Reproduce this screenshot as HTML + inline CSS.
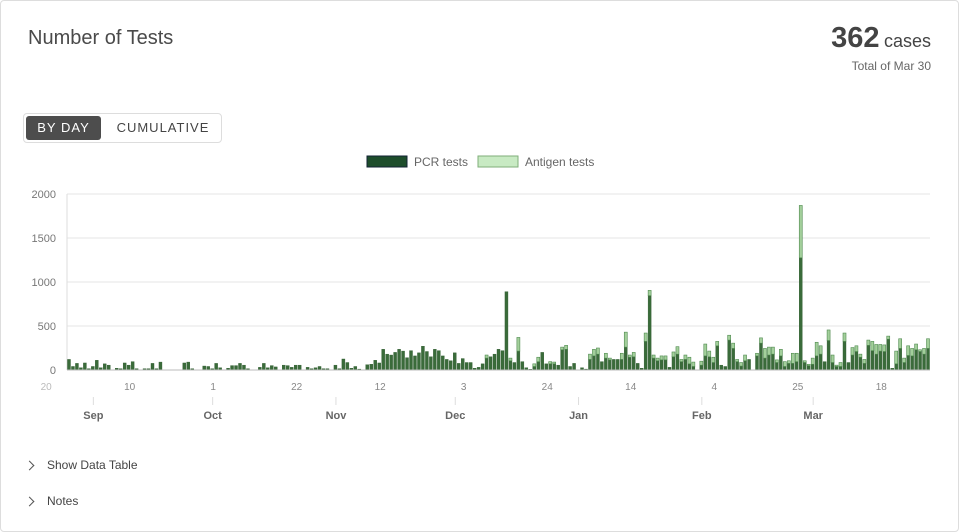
<!DOCTYPE html>
<html><head><meta charset="utf-8">
<style>
body{margin:0;background:#fff;font-family:"Liberation Sans",sans-serif;}
#card{position:absolute;left:0;top:0;width:957px;height:530px;border:1px solid #ddd;border-radius:4px;}
.t{position:absolute;white-space:nowrap;}
</style></head><body>
<div id="card"></div>
<div class="t" style="left:28px;top:27px;font-size:20px;color:#4a4a4a;">Number of Tests</div>
<div class="t" style="right:28px;top:22px;color:#444;"><b style="font-size:29px;">362</b> <span style="font-size:18px;">cases</span></div>
<div class="t" style="right:28px;top:59px;font-size:12px;color:#666;">Total of Mar 30</div>
<div style="position:absolute;left:23px;top:113px;width:197px;height:28px;border:1px solid #ddd;border-radius:4px;"></div>
<div class="t" style="left:26px;top:116px;width:75px;height:24px;background:#4d4d4d;color:#fff;border-radius:3px;font-size:13px;letter-spacing:1px;line-height:24px;text-align:center;">BY DAY</div>
<div class="t" style="left:110px;top:116px;width:106px;height:24px;color:#444;font-size:13px;letter-spacing:1px;line-height:24px;text-align:center;">CUMULATIVE</div>
<svg id="chart" width="959" height="440" style="position:absolute;left:0;top:0"></svg>
<div class="t" style="left:26px;top:458px;font-size:12px;color:#444;"><span style="display:inline-block;width:6px;height:6px;border-right:1.5px solid #555;border-top:1.5px solid #555;transform:rotate(45deg);margin-right:14px;"></span>Show Data Table</div>
<div class="t" style="left:26px;top:494px;font-size:12px;color:#444;"><span style="display:inline-block;width:6px;height:6px;border-right:1.5px solid #555;border-top:1.5px solid #555;transform:rotate(45deg);margin-right:14px;"></span>Notes</div>
<script>
const startDate = [2020,7,26];
const yTicks = [0,500,1000,1500,2000];
const dayTickLabels = ["20","10","1","22","12","3","24","14","4","25","18"];
const monthLabels = ["Sep","Oct","Nov","Dec","Jan","Feb","Mar"];
const pcrTests = [120,40,75,25,80,15,40,110,25,70,55,0,20,15,80,55,95,15,0,15,15,75,15,90,0,0,0,0,0,80,90,15,0,0,45,40,15,75,25,0,20,50,50,75,55,15,0,0,30,75,25,50,35,0,55,50,30,55,55,0,30,15,25,40,15,15,0,55,15,125,85,20,40,10,0,60,65,110,80,235,180,170,200,235,215,140,220,160,195,270,210,150,235,220,160,120,105,195,75,130,85,
85,20,30,70,135,150,180,235,220,890,105,85,215,95,25,8,40,95,200,70,70,70,55,230,235,40,75,0,25,10,120,160,180,95,135,115,120,120,120,260,145,150,75,20,325,845,135,105,115,115,30,150,180,95,120,70,40,0,55,160,150,85,275,55,40,340,245,95,45,105,120,0,160,305,135,170,180,85,160,40,75,75,95,1275,85,50,65,160,180,95,335,85,40,40,325,85,170,210,145,75,280,220,180,215,210,350,20,70,245,85,165,160,230,210,180,245];
const antigenTests = [0,0,0,0,0,0,0,0,0,0,0,0,0,0,0,0,0,0,0,0,0,0,0,0,0,0,0,0,0,0,0,0,0,0,0,0,0,0,0,0,0,0,0,0,0,0,0,0,0,0,0,0,0,0,0,0,0,0,0,0,0,0,0,0,0,0,0,0,0,0,0,0,0,0,0,0,0,0,0,0,0,0,0,0,0,0,0,0,0,0,0,0,0,0,0,0,0,0,0,0,0,
0,0,0,0,35,0,0,0,0,0,30,0,155,0,0,0,30,50,0,0,25,20,0,30,45,0,0,0,0,0,60,75,70,0,55,20,0,0,70,170,25,50,0,0,95,60,35,30,45,45,0,55,85,25,50,75,50,0,45,135,65,60,50,0,0,55,60,25,40,65,0,0,30,60,110,90,80,30,75,55,30,115,95,595,20,15,70,155,95,0,120,85,15,45,95,0,85,65,35,45,60,105,110,75,75,35,0,145,110,50,110,85,65,20,65,110];

const svg=document.getElementById('chart');const NS='http://www.w3.org/2000/svg';
function mk(tag,attrs,txt){const e=document.createElementNS(NS,tag);for(const k in attrs)e.setAttribute(k,attrs[k]);if(txt!==undefined)e.textContent=txt;svg.appendChild(e);return e;}
const X0=67,X1=930,YB=370,YT=194,YMAX=2000;
const bw=(X1-X0)/pcrTests.length;
const xDay=d=>X0+(d+0.5)*bw;
const y=v=>YB-(v/YMAX)*(YB-YT);
const t0=Date.UTC(startDate[0],startDate[1],startDate[2]);
const dayOf=(yy,m,d)=>Math.round((Date.UTC(yy,m,d)-t0)/86400000);
yTicks.forEach(v=>{
 const g=mk('line',{x1:X0,x2:X1,y1:y(v),y2:y(v),stroke:'#e6e6e6','stroke-width':1});
 
 const t=mk('text',{x:56,y:y(v)+4,'text-anchor':'end','font-size':11,fill:'#777'},String(v));
 
});
const ax=mk('line',{x1:X0,x2:X0,y1:YT,y2:YB,stroke:'#ddd'});

pcrTests.forEach((p,i)=>{
 const a=antigenTests[i];const x=xDay(i)-1.5;
 if(p>0){const r=mk('rect',{x:x,y:y(p),width:3,height:YB-y(p),fill:'#3a6b3a',stroke:'#2d5a2d','stroke-width':0.4});
 }
 if(a>0){const r=mk('rect',{x:x,y:y(p+a),width:3,height:y(p)-y(p+a),fill:'#a3cf9b',stroke:'#4f8a4f','stroke-width':0.6});
 }
});
const bl=mk('line',{x1:X0,x2:X1,y1:YB,y2:YB,stroke:'#bbb'});

dayTickLabels.forEach((lab,i)=>{
 const d=dayOf(2020,7,20)+21*i;
 const t=mk('text',{x:xDay(d)+1,y:390,'text-anchor':'middle','font-size':10,fill:i===0?'#bbb':'#888'},lab);
 
});
monthLabels.forEach((lab,i)=>{
 const mm=(8+i)%12, yy=8+i>11?2021:2020;
 const d=dayOf(yy,mm,1);const xx=X0+d*bw+2.5;
 const l=mk('line',{x1:xx,x2:xx,y1:397,y2:405,stroke:'#ddd'});
 
 const t=mk('text',{x:xx,y:419,'text-anchor':'middle','font-size':11,'font-weight':'bold',fill:'#666'},lab);
 
});
const l1=mk('rect',{x:367,y:156,width:40,height:11,fill:'#1d4d2b',stroke:'#123'});

const l1t=mk('text',{x:414,y:166,'font-size':12,fill:'#666'},'PCR tests');

const l2=mk('rect',{x:478,y:156,width:40,height:11,fill:'#c8eac3',stroke:'#7fae7a'});

const l2t=mk('text',{x:525,y:166,'font-size':12,fill:'#666'},'Antigen tests');

</script>
</body></html>
